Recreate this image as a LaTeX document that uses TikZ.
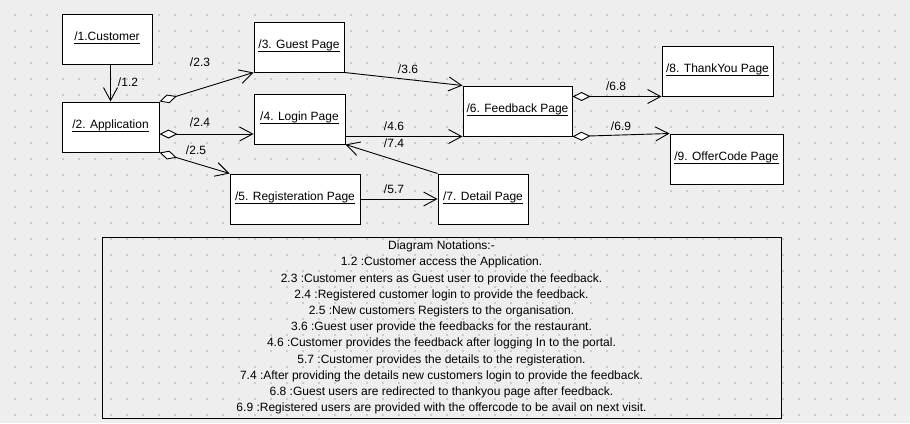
\documentclass[tikz,border=0pt]{standalone}
\usepackage{fontspec}
\setmainfont{Liberation Sans}
\usetikzlibrary{arrows.meta,calc}
\definecolor{canvas}{HTML}{EEEEEE}
\definecolor{griddot}{HTML}{CCCCCC}
\newcommand\pglabel[1]{\underline{\smash{#1}\rule[-1.5pt]{0pt}{0pt}}}
\tikzset{
  page/.style={draw, fill=white, line width=1pt, minimum height=50pt, inner sep=0pt,
    text height=9pt, text depth=7pt, font=\fontsize{12}{14}\selectfont},
  lbl/.style={inner sep=0pt, font=\fontsize{12}{14}\selectfont},
  msg/.style={line width=0.9pt, -{Straight Barb[length=13pt,width=14pt]}},
  agg/.style={line width=0.9pt, {Diamond[fill=white,length=18pt,width=9pt]}-{Straight Barb[length=13pt,width=14pt]}},
}
\begin{document}
\begin{tikzpicture}[x=1pt,y=-1pt]
    \fill[canvas] (0,0) rectangle (910,423);
    \useasboundingbox (0,0) rectangle (910,423);
    \foreach \i in {15,31,...,895}
      \foreach \j in {15,31,...,415}
        \fill[griddot] (\i-1,\j-1) rectangle ++(2,2);

    \node[page, minimum width=90pt] (cust) at (107,39) {\pglabel{/1.Customer}};
    \node[page, minimum width=97pt] (app) at (110.5,127) {\pglabel{/2. Application}};
    \node[page, minimum width=90pt] (guest) at (299,47) {\pglabel{/3. Guest Page}};
    \node[page, minimum width=91pt] (login) at (299.5,119) {\pglabel{/4. Login Page}};
    \node[page, minimum width=130pt] (reg) at (295,199) {\pglabel{/5. Registeration Page}};
    \node[page, minimum width=109pt] (feed) at (517.5,111) {\pglabel{/6. Feedback Page}};
    \node[page, minimum width=90pt] (detail) at (483,199) {\pglabel{/7. Detail Page}};
    \node[page, minimum width=111pt] (thanks) at (717.5,71) {\pglabel{/8. ThankYou Page}};
    \node[page, minimum width=113pt] (offer) at (726.5,159) {\pglabel{/9. OfferCode Page}};

    \coordinate (a24) at ([yshift=-7pt]app.east);
    \draw[msg] (app.north |- cust.south) -- (app.north);
    \draw[agg] (app.north east) -- (guest.south west);
    \draw[agg] (a24) -- (a24 -| login.west);
    \draw[agg] (app.south east) -- (reg.north west);
    \draw[msg] (guest.south east) -- (feed.north west);
    \draw[msg] (feed.south west -| login.east) -- (feed.south west);
    \draw[msg] (detail.north west) -- (login.south east);
    \draw[msg] (reg.east) -- (detail.west);
    \draw[agg] (thanks.south west -| feed.east) -- (thanks.south west);
    \draw[agg] (feed.south east) -- (offer.north west);

    \node[lbl] (l12) at (128,82) {/1.2};
    \node[lbl] (l23) at (200,62) {/2.3};
    \node[lbl] (l24) at (200,122) {/2.4};
    \node[lbl] (l25) at (196,150) {/2.5};
    \node[lbl] (l36) at (408,69) {/3.6};
    \node[lbl] (l46) at (394,126) {/4.6};
    \node[lbl] (l74) at (394,143) {/7.4};
    \node[lbl] (l57) at (394,189) {/5.7};
    \node[lbl] (l68) at (616,86) {/6.8};
    \node[lbl] (l69) at (621,126) {/6.9};

    \node[draw, line width=1pt, minimum width=679pt, minimum height=181pt, align=center,
      font=\fontsize{12}{16.2}\selectfont] (notes) at (441.5,327.5) {Diagram Notations:-\\
      1.2 :Customer access the Application.\\
      2.3 :Customer enters as Guest user to provide the feedback.\\
      2.4 :Registered customer login to provide the feedback.\\
      2.5 :New customers Registers to the organisation.\\
      3.6 :Guest user provide the feedbacks for the restaurant.\\
      4.6 :Customer provides the feedback after logging In to the portal.\\
      5.7 :Customer provides the details to the registeration.\\
      7.4 :After providing the details new customers login to provide the feedback.\\
      6.8 :Guest users are redirected to thankyou page after feedback.\\
      6.9 :Registered users are provided with the offercode to be avail on next visit.};
\end{tikzpicture}
\end{document}
